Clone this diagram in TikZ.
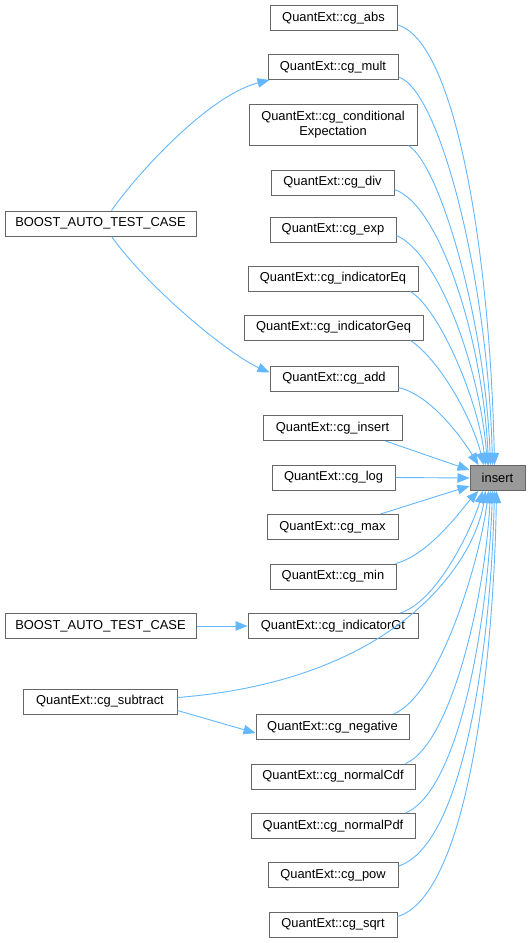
\documentclass[tikz,border=0pt]{standalone}
\usepackage{fontspec}
\setmainfont{Liberation Sans}
\usetikzlibrary{arrows.meta}
\definecolor{edgeblue}{HTML}{63B8FF}
\definecolor{boxgray}{HTML}{666666}
\definecolor{hlgray}{HTML}{999999}
\tikzset{
  fn/.style={draw=boxgray, line width=1pt, fill=white, minimum height=25pt, inner sep=0pt, font=\fontsize{12.9}{14.5}\selectfont, align=center},
  cur/.style={fn, fill=hlgray},
  call/.style={draw=edgeblue, line width=0.9pt, -{Triangle[length=12pt,width=9.5pt]}},
}
\begin{document}
\begin{tikzpicture}[x=1pt,y=-1pt]
\useasboundingbox (0,0) rectangle (531,943);
\fill[white] (0,0) rectangle (531,943);
% nodes
\node[fn, minimum width=127pt] (abs) at (333.5,18) {QuantExt::cg\_abs};
\node[fn, minimum width=130pt] (mult) at (333,67) {QuantExt::cg\_mult};
\node[fn, minimum width=168pt, minimum height=41pt] (cond) at (333,124.5) {QuantExt::cg\_conditional\\Expectation};
\node[fn, minimum width=123pt] (div) at (332.5,182.5) {QuantExt::cg\_div};
\node[fn, minimum width=126pt] (exp) at (333,229.5) {QuantExt::cg\_exp};
\node[fn, minimum width=170pt] (ieq) at (333,278.5) {QuantExt::cg\_indicatorEq};
\node[fn, minimum width=179pt] (igeq) at (333.5,327.5) {QuantExt::cg\_indicatorGeq};
\node[fn, minimum width=128pt] (add) at (334,378.5) {QuantExt::cg\_add};
\node[fn, minimum width=139pt] (cins) at (332.5,428) {QuantExt::cg\_insert};
\node[fn, minimum width=123pt] (log) at (333.5,477.5) {QuantExt::cg\_log};
\node[fn, minimum width=131pt] (max) at (332.5,527) {QuantExt::cg\_max};
\node[fn, minimum width=126pt] (min) at (333,576.5) {QuantExt::cg\_min};
\node[fn, minimum width=170pt] (igt) at (333,626) {QuantExt::cg\_indicatorGt};
\node[fn, minimum width=153pt] (neg) at (332.5,727) {QuantExt::cg\_negative};
\node[fn, minimum width=164pt] (ncdf) at (333,776.5) {QuantExt::cg\_normalCdf};
\node[fn, minimum width=164pt] (npdf) at (333,826) {QuantExt::cg\_normalPdf};
\node[fn, minimum width=130pt] (pow) at (333,875) {QuantExt::cg\_pow};
\node[fn, minimum width=128pt] (sqrt) at (333,924.5) {QuantExt::cg\_sqrt};
\node[cur, minimum width=55pt] (ins) at (497.5,478) {insert};
\node[fn, minimum width=191pt] (bt1) at (100.5,223.5) {BOOST\_AUTO\_TEST\_CASE};
\node[fn, minimum width=191pt] (bt2) at (100.5,626) {BOOST\_AUTO\_TEST\_CASE};
\node[fn, minimum width=154pt] (sub) at (100,701.5) {QuantExt::cg\_subtract};
% edges into insert
\draw[call] ([yshift=-7pt]abs.east) .. controls (455,40) and (490,250) .. ([xshift=-3pt]ins.north);
\draw[call] ([yshift=-10pt]mult.east) .. controls (440,90) and (488,280) .. ([xshift=-5pt]ins.north);
\draw[call] ([xshift=-9pt]cond.south east) .. controls (440,165) and (485,320) .. ([xshift=-7pt]ins.north);
\draw[call] ([yshift=-7pt]div.east) .. controls (440,205) and (483,340) .. ([xshift=-9pt]ins.north);
\draw[call] ([yshift=-6pt]exp.east) .. controls (440,255) and (480,370) .. ([xshift=-10pt]ins.north);
\draw[call] ([xshift=-8pt]ieq.south east) .. controls (440,310) and (478,400) .. ([xshift=-12pt]ins.north);
\draw[call] ([xshift=-13pt]igeq.south east) .. controls (440,360) and (473,420) .. ([xshift=-14pt]ins.north);
\draw[call] ([yshift=-9pt]add.east) .. controls (430,395) and (460,435) .. ([xshift=-19pt]ins.north);
\draw[call] ([xshift=-17pt]cins.south east) -- ([yshift=8pt]ins.west);
\draw[call] (log.east) -- (ins.west);
\draw[call] ([xshift=-18pt]max.north east) -- ([yshift=-8pt]ins.west);
\draw[call] ([xshift=-1pt]min.north east) .. controls (430,555) and (465,505) .. ([xshift=-19pt]ins.south);
\draw[call] ([xshift=-18pt]igt.north east) .. controls (440,600) and (475,520) .. ([xshift=-15pt]ins.south);
\draw[call] ([yshift=4pt]sub.east) .. controls (400,680) and (475,560) .. ([xshift=-12pt]ins.south);
\draw[call] ([xshift=-16pt]neg.north east) .. controls (440,695) and (480,560) .. ([xshift=-9pt]ins.south);
\draw[call] ([xshift=-10pt]ncdf.north east) .. controls (450,745) and (485,600) .. ([xshift=-7pt]ins.south);
\draw[call] ([xshift=-10pt]npdf.north east) .. controls (460,790) and (488,620) .. ([xshift=-5pt]ins.south);
\draw[call] ([yshift=9pt]pow.east) .. controls (465,845) and (491,640) .. ([xshift=-3pt]ins.south);
\draw[call] ([yshift=8pt]sqrt.east) .. controls (470,895) and (494,650) .. ([xshift=-1pt]ins.south);
% other edges
\draw[call] ([xshift=11pt]bt1.north) .. controls (140,170) and (210,95) .. ([xshift=2pt]mult.south west);
\draw[call] ([xshift=11pt]bt1.south) .. controls (150,290) and (230,355) .. ([yshift=6pt]add.west);
\draw[call] (bt2.east) -- (igt.west);
\draw[call] ([yshift=-9pt]sub.east) -- ([yshift=-6pt]neg.west);
\end{tikzpicture}
\end{document}
